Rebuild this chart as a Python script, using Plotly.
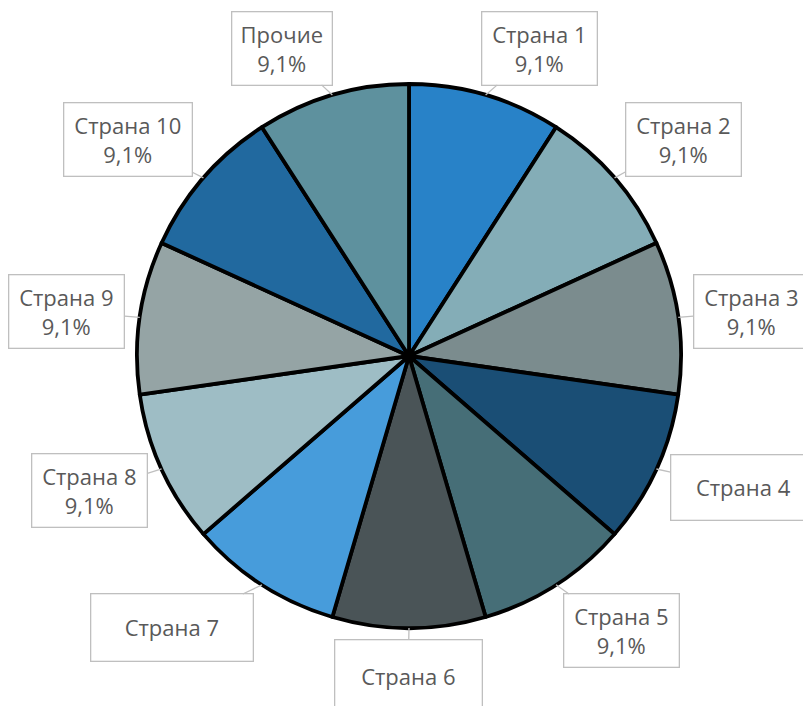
import math
import plotly.graph_objects as go

# ---- data ----
labels = ["Страна 1", "Страна 2", "Страна 3", "Страна 4", "Страна 5", "Страна 6",
          "Страна 7", "Страна 8", "Страна 9", "Страна 10", "Прочие"]
values = [1, 1, 1, 1, 1, 1, 1, 1, 1, 1, 1]
show_pct = [True, True, True, False, True, False, False, True, True, True, True]
colors = ["#2882C8", "#84ADB7", "#7B8C8E", "#1A4E75", "#466E77", "#4A5457",
          "#479CDB", "#9EBDC5", "#95A4A5", "#21699F", "#5E919E"]

# ---- layout (pixels) ----
W, H = 803, 706
CX, CY, R = 409, 356, 272
# label box offsets from slice anchor (pixels, +y down) and box sizes
offsets = [(54, -47), (69, -38), (73, -6), (87, 19), (65, 46), (-1, 48),
           (-90, 43), (-72, 22), (-73, -6), (-75, -38), (-50, -47)]
sizes = [(114, 72), (114, 72), (114, 72), (144, 64), (114, 72), (146, 72),
         (161, 66), (114, 72), (114, 72), (127, 72), (99, 72)]

fig = go.Figure(go.Pie(
    labels=labels, values=values, sort=False, direction="clockwise", rotation=0,
    marker=dict(colors=colors, line=dict(color="black", width=3.8)),
    textinfo="none", showlegend=False,
    domain=dict(x=[(CX - R) / W, (CX + R) / W], y=[1 - (CY + R) / H, 1 - (CY - R) / H]),
))

total = sum(values)
cum = 0
annotations = []
for i, (lab, v) in enumerate(zip(labels, values)):
    mid = (cum + v / 2) / total * 2 * math.pi
    cum += v
    px = CX + R * math.sin(mid)
    py = CY - R * math.cos(mid)
    pct = f"{v / total * 100:.1f}".replace(".", ",") + "%"
    text = f"{lab}<br>{pct}" if show_pct[i] else lab
    ox, oy = offsets[i]
    bw, bh = sizes[i]
    annotations.append(dict(
        x=px / W, y=1 - py / H, xref="paper", yref="paper",
        text=text, showarrow=True, arrowhead=0, arrowwidth=1.3, arrowcolor="#BFBFBF",
        ax=ox, ay=oy, bordercolor="#BFBFBF", borderwidth=1.3, borderpad=0,
        bgcolor="white", width=bw, height=bh, align="center", valign="middle",
        font=dict(family="Open Sans, sans-serif", size=22, color="#595959"),
    ))

fig.update_layout(
    width=W, height=H, margin=dict(l=0, r=0, t=0, b=0),
    paper_bgcolor="white", plot_bgcolor="white",
    annotations=annotations,
)
fig.write_html("out.html", config={"displayModeBar": False},
               post_script="document.body.style.margin='0';")
